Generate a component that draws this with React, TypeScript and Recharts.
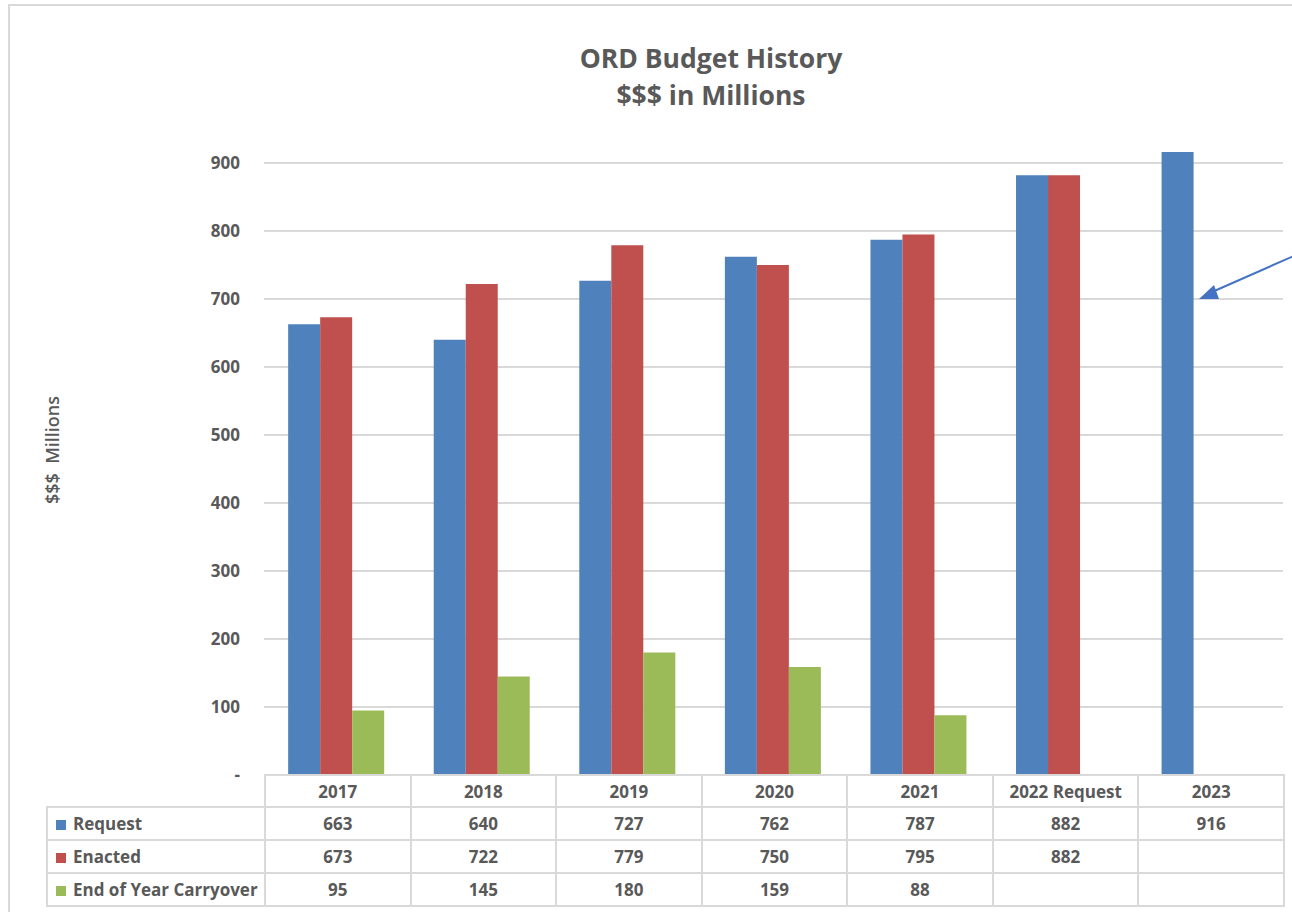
import React from "react";
import { BarChart, Bar, XAxis, YAxis, CartesianGrid } from "recharts";

const categories = ["2017", "2018", "2019", "2020", "2021", "2022 Request", "2023"];
const request = [663, 640, 727, 762, 787, 882, 916];
const enacted: (number | null)[] = [673, 722, 779, 750, 795, 882, null];
const carryover: (number | null)[] = [95, 145, 180, 159, 88, null, null];
const yTicks = [0, 100, 200, 300, 400, 500, 600, 700, 800, 900];

const series = [
  { key: "request", name: "Request", color: "#4F81BD", values: request },
  { key: "enacted", name: "Enacted", color: "#C0504D", values: enacted },
  { key: "carryover", name: "End of Year Carryover", color: "#9BBB59", values: carryover },
];

const data = categories.map((c, i) => ({
  category: c,
  request: request[i],
  enacted: enacted[i],
  carryover: carryover[i],
}));

const TEXT = "#595959";
const LINE = "#d9d9d9";
const FONT = "'Open Sans', 'Noto Sans', sans-serif";

const cell: React.CSSProperties = {
  border: `2px solid ${LINE}`,
  textAlign: "center",
  padding: 0,
  fontWeight: 700,
  fontSize: 17,
  color: TEXT,
};

export default function App() {
  return (
    <div
      style={{
        position: "absolute",
        left: 0,
        top: 0,
        width: 1292,
        height: 912,
        overflow: "hidden",
        background: "#fff",
        fontFamily: FONT,
      }}
    >
      {/* chart frame, runs off the right and bottom edges */}
      <div
        style={{
          position: "absolute",
          left: 8,
          top: 4,
          width: 1400,
          height: 1000,
          border: `2px solid ${LINE}`,
        }}
      />

      <div
        style={{
          position: "absolute",
          left: 0,
          top: 40,
          width: 1422,
          textAlign: "center",
          color: TEXT,
          fontWeight: 700,
          fontSize: 26.5,
          lineHeight: "37px",
        }}
      >
        <div>ORD Budget History</div>
        <div>$$$ in Millions</div>
      </div>

      <div
        style={{
          position: "absolute",
          left: 52,
          top: 450,
          transform: "translate(-50%, -50%) rotate(-90deg)",
          whiteSpace: "pre",
          color: TEXT,
          fontWeight: 600,
          fontSize: 18,
        }}
      >
        {"$$$  Millions"}
      </div>

      <div style={{ position: "absolute", left: 0, top: 0 }}>
        <BarChart
          width={1292}
          height={912}
          data={data}
          margin={{ top: 95, right: 9, bottom: 137, left: 204 }}
          barCategoryGap="16.6%"
          barGap={0}
        >
          <CartesianGrid
            vertical={false}
            stroke={LINE}
            strokeWidth={2}
            horizontalValues={yTicks.filter((v) => v > 0)}
          />
          <XAxis dataKey="category" hide />
          <YAxis
            width={60}
            domain={[0, 1000]}
            ticks={yTicks}
            tickLine={false}
            axisLine={false}
            tickSize={0}
            tickMargin={24}
            tickFormatter={(v: number) => (v === 0 ? "-" : String(v))}
            tick={{ fill: TEXT, fontSize: 17, fontWeight: 700, fontFamily: FONT }}
          />
          {series.map((s) => (
            <Bar key={s.key} dataKey={s.key} name={s.name} fill={s.color} isAnimationActive={false} />
          ))}
        </BarChart>
      </div>

      {/* arrow annotation */}
      <svg
        width={1292}
        height={912}
        style={{ position: "absolute", left: 0, top: 0, pointerEvents: "none" }}
      >
        <line x1={1296} y1={255} x2={1212} y2={292} stroke="#4472C4" strokeWidth={2} />
        <polygon points="1199,299 1214,285 1219,299" fill="#4472C4" />
      </svg>

      {/* data table */}
      <table
        style={{
          position: "absolute",
          left: 46,
          top: 774,
          width: 1239,
          borderCollapse: "collapse",
          tableLayout: "fixed",
          fontFamily: FONT,
        }}
      >
        <colgroup>
          <col style={{ width: 218 }} />
          {categories.map((c) => (
            <col key={c} />
          ))}
        </colgroup>
        <tbody>
          <tr style={{ height: 32 }}>
            <td style={{ ...cell, borderTop: "hidden", borderLeft: "hidden" }} />
            {categories.map((c) => (
              <td key={c} style={cell}>
                {c}
              </td>
            ))}
          </tr>
          {series.map((s) => (
            <tr key={s.key} style={{ height: 33 }}>
              <td style={{ ...cell, textAlign: "left", paddingLeft: 8, whiteSpace: "nowrap" }}>
                <span
                  style={{
                    display: "inline-block",
                    width: 10,
                    height: 10,
                    background: s.color,
                    marginRight: 7,
                  }}
                />
                {s.name}
              </td>
              {s.values.map((v, i) => (
                <td key={i} style={cell}>
                  {v == null ? "" : v}
                </td>
              ))}
            </tr>
          ))}
        </tbody>
      </table>
    </div>
  );
}
